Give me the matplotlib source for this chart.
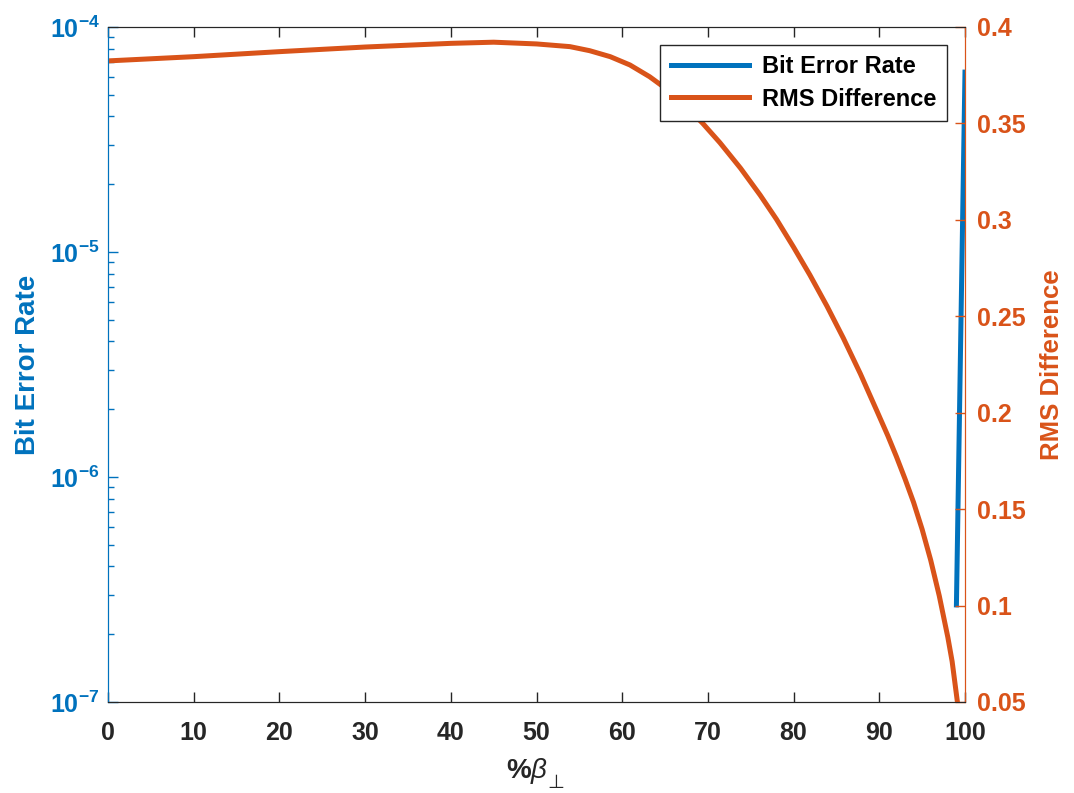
import numpy as np
import matplotlib
matplotlib.use('Agg')
import matplotlib.pyplot as plt
from matplotlib.ticker import FixedLocator, FixedFormatter, LogLocator, NullFormatter, FormatStrFormatter

plt.rcParams['font.family'] = ['Liberation Sans', 'DejaVu Sans']
plt.rcParams['font.weight'] = 'bold'
plt.rcParams['mathtext.fontset'] = 'custom'
plt.rcParams['mathtext.rm'] = 'DejaVu Sans'
plt.rcParams['mathtext.bf'] = 'Liberation Sans:bold'
plt.rcParams['mathtext.it'] = 'Liberation Sans:style=italic:weight=regular'

blue = '#0072BD'; orange = '#D95319'; dark = '#262626'

# Bit error rate (left, log axis)
ber_x = [99, 100]
ber_y = [2.7e-7, 6.3e-5]

# RMS difference (right axis)
rms_x = [0, 10, 20, 30, 40, 45, 50, 53.9, 56.2, 58.6, 60.9, 63.2, 65.2, 67.1, 69.4,
         71.4, 73.8, 76.1, 78.0, 80.0, 81.9, 83.9, 85.8, 87.8, 89.7, 91.0, 92.0, 93.0,
         94.0, 95.0, 96.0, 97.0, 98.0, 98.5, 99.1]
rms_y = [0.3824, 0.3846, 0.3872, 0.3896, 0.3915, 0.3921, 0.3912, 0.3898, 0.3877, 0.3846,
         0.3803, 0.3742, 0.3677, 0.3604, 0.3500, 0.3400, 0.3268, 0.3128, 0.3003, 0.2858,
         0.2714, 0.2552, 0.2387, 0.2201, 0.2011, 0.1880, 0.1772, 0.1657, 0.1535, 0.1395,
         0.1235, 0.1050, 0.0835, 0.0710, 0.0505]

fig = plt.figure(figsize=(10.74, 7.93), dpi=100)
ax = fig.add_axes([0.1006, 0.1148, 0.7979, 0.8512])
ax2 = ax.twinx()

l1, = ax.plot(ber_x, ber_y, color=blue, lw=3.6, label='Bit Error Rate')
l2, = ax2.plot(rms_x, rms_y, color=orange, lw=3.6, label='RMS Difference')

ax.set_yscale('log')
ax.set_ylim(1e-7, 1e-4)
ax.set_xlim(0, 100)
ax.set_xticks(np.arange(0, 101, 10))
ax.yaxis.set_major_locator(FixedLocator([1e-7, 1e-6, 1e-5, 1e-4]))
ax.yaxis.set_major_formatter(FixedFormatter([r'$\mathbf{10^{-7}}$', r'$\mathbf{10^{-6}}$',
                                             r'$\mathbf{10^{-5}}$', r'$\mathbf{10^{-4}}$']))
ax.yaxis.set_minor_locator(LogLocator(base=10, subs=np.arange(2, 10)))
ax.yaxis.set_minor_formatter(NullFormatter())

ax2.set_ylim(0.05, 0.4)
ax2.set_yticks(np.arange(0.05, 0.401, 0.05))
ax2.yaxis.set_major_formatter(FormatStrFormatter('%g'))

ax.tick_params(axis='x', which='both', direction='in', top=True, length=7, width=1,
               colors=dark, labelsize=18, pad=14)
ax.tick_params(axis='y', which='major', direction='in', length=7, width=1,
               colors=blue, labelsize=18, pad=6)
ax.tick_params(axis='y', which='minor', direction='in', length=4, width=1, colors=blue)
ax2.tick_params(axis='y', which='major', direction='in', length=7, width=1,
                colors=orange, labelsize=18, pad=9)
for a in (ax, ax2):
    a.spines['top'].set_color(dark)
    a.spines['bottom'].set_color(dark)
    a.spines['left'].set_color(blue)
    a.spines['right'].set_color(orange)

# x label: "%β" plus a lowered "⊥" subscript drawn in DejaVu Sans
ax.set_xlabel(r'%$\mathit{\beta}$', fontsize=20, fontweight='bold', color=dark)
ax.xaxis.set_label_coords(0.4883, -0.08)
ax.text(0.5227, -0.119, '\u22a5', transform=ax.transAxes, ha='center', va='center',
        fontsize=14, family='DejaVu Sans', fontweight='normal', color=dark)
ax.set_ylabel('Bit Error Rate', fontsize=20, fontweight='bold', color=blue, labelpad=6)
ax2.set_ylabel('RMS Difference', fontsize=18.5, fontweight='bold', color=orange, labelpad=10)

leg = ax2.legend([l1, l2], ['Bit Error Rate', 'RMS Difference'], loc='upper right',
                 bbox_to_anchor=(0.979, 0.974), fontsize=17, fancybox=False, framealpha=1,
                 edgecolor=dark, handlelength=3.3, borderpad=0.45, labelspacing=0.4,
                 handletextpad=0.55, borderaxespad=0)
leg.get_frame().set_linewidth(1)

fig.savefig('out.png', dpi=100)
